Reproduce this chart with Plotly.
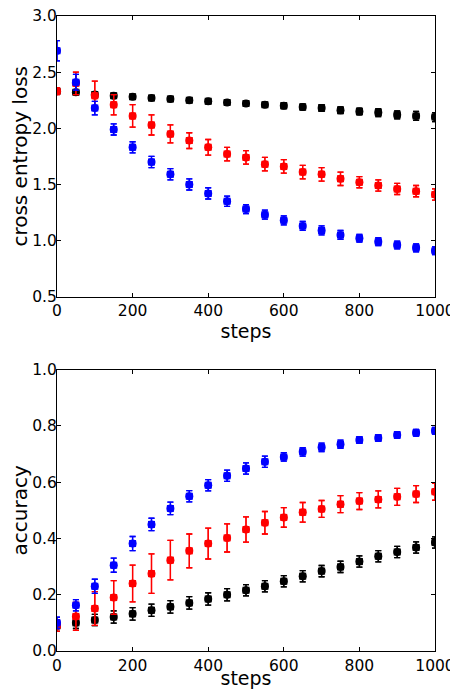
import plotly.graph_objects as go
from plotly.subplots import make_subplots

steps = [0, 50, 100, 150, 200, 250, 300, 350, 400, 450, 500, 550, 600, 650, 700, 750, 800, 850, 900, 950, 1000]

loss_black = [2.33, 2.32, 2.30, 2.29, 2.28, 2.27, 2.26, 2.25, 2.24, 2.23, 2.22, 2.21, 2.20, 2.19, 2.18, 2.16, 2.15, 2.14, 2.12, 2.11, 2.10]
loss_black_err = [0.02, 0.02, 0.02, 0.02, 0.02, 0.02, 0.02, 0.02, 0.02, 0.02, 0.02, 0.02, 0.025, 0.025, 0.03, 0.03, 0.03, 0.035, 0.035, 0.04, 0.04]
loss_red = [2.33, 2.40, 2.29, 2.21, 2.11, 2.03, 1.95, 1.89, 1.83, 1.77, 1.74, 1.68, 1.66, 1.61, 1.59, 1.55, 1.52, 1.49, 1.46, 1.44, 1.41]
loss_red_err = [0.03, 0.1, 0.13, 0.09, 0.1, 0.09, 0.08, 0.07, 0.07, 0.06, 0.06, 0.06, 0.06, 0.06, 0.06, 0.06, 0.05, 0.05, 0.05, 0.05, 0.05]
loss_blue = [2.69, 2.41, 2.18, 1.99, 1.83, 1.70, 1.59, 1.50, 1.42, 1.35, 1.28, 1.23, 1.18, 1.13, 1.09, 1.05, 1.02, 0.99, 0.96, 0.935, 0.91]
loss_blue_err = [0.09, 0.07, 0.06, 0.05, 0.05, 0.05, 0.05, 0.05, 0.05, 0.045, 0.04, 0.04, 0.04, 0.04, 0.04, 0.04, 0.035, 0.035, 0.035, 0.035, 0.035]

acc_black = [0.09, 0.10, 0.11, 0.121, 0.132, 0.145, 0.157, 0.171, 0.185, 0.20, 0.216, 0.23, 0.248, 0.266, 0.284, 0.299, 0.318, 0.337, 0.352, 0.368, 0.386]
acc_black_err = [0.02, 0.02, 0.02, 0.022, 0.022, 0.022, 0.022, 0.022, 0.022, 0.022, 0.02, 0.02, 0.02, 0.02, 0.02, 0.02, 0.02, 0.02, 0.02, 0.02, 0.02]
acc_red = [0.09, 0.123, 0.151, 0.19, 0.24, 0.275, 0.323, 0.356, 0.382, 0.402, 0.432, 0.456, 0.475, 0.493, 0.505, 0.522, 0.533, 0.539, 0.548, 0.558, 0.566]
acc_red_err = [0.02, 0.05, 0.06, 0.06, 0.065, 0.07, 0.07, 0.06, 0.055, 0.05, 0.045, 0.04, 0.035, 0.035, 0.03, 0.03, 0.03, 0.03, 0.03, 0.03, 0.03]
acc_blue = [0.10, 0.163, 0.23, 0.305, 0.382, 0.45, 0.507, 0.55, 0.589, 0.623, 0.649, 0.673, 0.69, 0.708, 0.724, 0.735, 0.75, 0.757, 0.768, 0.776, 0.783]
acc_blue_err = [0.02, 0.02, 0.025, 0.025, 0.025, 0.022, 0.022, 0.02, 0.02, 0.02, 0.02, 0.02, 0.015, 0.015, 0.015, 0.015, 0.012, 0.012, 0.012, 0.012, 0.012]

fig = make_subplots(rows=2, cols=1, vertical_spacing=0.115)

def add(row, y, err, color):
    for sym, size in (("square", 7), ("circle", 8)):
        fig.add_trace(go.Scatter(
            x=steps, y=y, mode="markers",
            marker=dict(symbol=sym, size=size, color=color, line=dict(width=0)),
            error_y=dict(type="data", array=err, visible=True, color=color, thickness=1.3, width=3),
            showlegend=False), row=row, col=1)

add(1, loss_black, loss_black_err, "black")
add(1, loss_red, loss_red_err, "red")
add(1, loss_blue, loss_blue_err, "blue")
add(2, acc_black, acc_black_err, "black")
add(2, acc_red, acc_red_err, "red")
add(2, acc_blue, acc_blue_err, "blue")

axis_common = dict(showline=True, linecolor="black", linewidth=1, mirror="allticks", ticks="inside",
                   ticklen=4, tickcolor="black", showgrid=False, zeroline=False, automargin=False,
                   ticklabeloverflow="allow", tickfont=dict(size=15.5, color="black"))

fig.update_xaxes(range=[0, 1000], tickvals=[0, 200, 400, 600, 800, 1000],
                 title=dict(text="steps", font=dict(size=19, color="black"), standoff=0), **axis_common)
fig.update_yaxes(range=[0.5, 3.0], tickvals=[0.5, 1.0, 1.5, 2.0, 2.5, 3.0], tickformat=".1f",
                 ticklabelstandoff=-4, row=1, col=1,
                 title=dict(text="cross entropy loss", font=dict(size=20, color="black"), standoff=8), **axis_common)
fig.update_yaxes(range=[0.0, 1.0], tickvals=[0.0, 0.2, 0.4, 0.6, 0.8, 1.0], tickformat=".1f",
                 ticklabelstandoff=-4, row=2, col=1,
                 title=dict(text="accuracy", font=dict(size=20, color="black"), standoff=8), **axis_common)

fig.update_layout(width=450, height=681, margin=dict(l=49, r=23, t=8, b=38),
                  plot_bgcolor="white", paper_bgcolor="white",
                  font=dict(family="DejaVu Sans", color="black"))
fig.update_yaxes(domain=[0.558, 1.0], row=1, col=1)
fig.update_yaxes(domain=[0.0, 0.443], row=2, col=1)

fig.write_html("out.html")
